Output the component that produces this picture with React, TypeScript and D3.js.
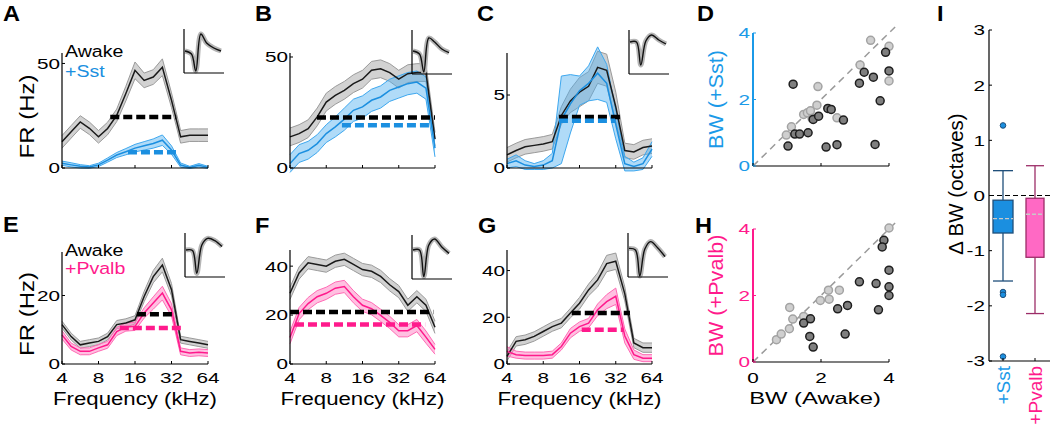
import React from 'react';
import * as d3 from 'd3';

// ---------- DATA ----------
const FREQS = [4, 4.76, 5.66, 6.73, 8, 9.51, 11.31, 13.45, 16, 19.03, 22.63, 26.91, 32, 38.05, 45.25, 53.82, 64];
const FREQ_TICKS = [4, 8, 16, 32, 64];

const A_AWAKE = [12.5, 17.3, 22, 19, 14.9, 18.9, 25.2, 35.6, 46.7, 41.9, 43.5, 48.2, 32.4, 14.9, 15.7, 15.7, 15.7];
const A_AWAKE_SEM = [3, 3, 3, 3, 3, 3, 3, 3.5, 4, 3.5, 3.5, 4, 3.5, 3, 3, 3, 3];
const A_SST = [2.3, 1.5, 0.8, 0.5, 1.5, 3.8, 6.2, 7.8, 9.5, 10.6, 11.7, 13.3, 8.6, 1.4, 0.3, 1.3, 0.3];
const A_SST_SEM = [1, 1, 0.8, 0.6, 0.8, 1, 1.2, 1.5, 1.8, 2, 2.2, 2.5, 2, 1, 0.5, 0.8, 0.5];

const B_AWAKE = [14, 15.5, 17.7, 23, 29.7, 32.7, 35, 38, 40, 44, 44.7, 43, 40, 42.5, 43, 43, 13];
const B_AWAKE_SEM = [4, 4, 4, 4, 4, 4, 4, 4, 4, 4, 4, 4, 4, 4, 4, 4, 3];
const B_SST = [2, 6.5, 8, 11, 15.5, 18.5, 22, 26, 27.5, 30.5, 32, 35, 36.5, 38, 38.7, 36, 9];
const B_SST_SEM = [4, 4, 4, 4, 4, 4.5, 5, 5, 5, 5, 5, 5, 5, 5, 5, 5, 4];

const C_AWAKE = [0.9, 1.2, 1.45, 1.55, 1.65, 1.8, 3.6, 4.6, 5.2, 5.6, 6.9, 6.7, 4.2, 1.2, 1.1, 1.4, 1.5];
const C_AWAKE_SEM = [0.5, 0.5, 0.5, 0.5, 0.5, 0.5, 0.6, 0.8, 1, 1, 1.1, 1.1, 1, 0.5, 0.5, 0.5, 0.5];
const C_SST = [0.3, 0.5, 0.2, 0.1, 0.2, 0.5, 3.3, 4.4, 5.3, 5.8, 6.5, 5.8, 3, 0.3, 0.1, 0.3, 1.3];
const C_SST_SEM = [0.3, 0.4, 0.3, 0.2, 0.3, 0.5, 3, 2, 1, 1.2, 1.8, 1.3, 1, 0.5, 0.3, 0.4, 0.5];

const E_AWAKE = [11.5, 8, 5.6, 6.1, 6.6, 8, 11.5, 12, 12.9, 19.7, 25.5, 28.9, 21.7, 7.1, 6.6, 6.1, 5.6];
const E_AWAKE_SEM = [1, 1, 1, 1, 1, 1, 1.2, 1.2, 1.2, 1.5, 1.8, 2, 1.8, 1, 1, 1, 1];
const E_PVALB = [8.5, 5.1, 3.7, 3.7, 4.7, 5.6, 9.5, 10.8, 11, 14.9, 17.8, 20.7, 15.8, 3.7, 3.2, 3.4, 3.2];
const E_PVALB_SEM = [1.2, 1, 1, 1, 1, 1, 1.2, 1.2, 1.2, 1.5, 1.8, 2, 1.8, 1, 1, 1, 1];

const F_AWAKE = [28.9, 37.2, 41.4, 40.7, 40, 42, 42.8, 40.7, 38.6, 37.9, 35.8, 32.4, 29.6, 24, 27.5, 24, 15];
const F_AWAKE_SEM = [2.5, 2.5, 2.5, 2.5, 2.5, 2.5, 2.5, 2.5, 2.5, 2.5, 2.5, 2.5, 2.5, 2.5, 2.5, 2.5, 2.5];
const F_PVALB = [10.8, 20.6, 24.7, 27.5, 28.9, 31, 31.7, 27.5, 24, 22.6, 19.9, 17, 13.6, 13.6, 15.7, 11, 6];
const F_PVALB_SEM = [2.5, 2.5, 2.5, 2.5, 2.5, 2.5, 2.5, 2.5, 2.5, 2.5, 2.5, 2.5, 2.5, 2.5, 2.5, 2.5, 2];

const G_AWAKE = [3.3, 9.7, 10.4, 11.8, 13.9, 16, 17.5, 21.8, 26, 31.7, 36, 43, 44, 30, 9, 7, 7];
const G_AWAKE_SEM = [2, 2, 2, 2, 2, 2, 2, 2, 2.5, 2.5, 3, 3.5, 3.5, 3, 2, 2, 2];
const G_PVALB = [5.4, 4, 3.6, 3.6, 3.6, 4, 7.5, 13.2, 16, 17.5, 23.2, 26.7, 29, 12, 4, 2.5, 2.5];
const G_PVALB_SEM = [2, 1.5, 1.5, 1.5, 1.5, 1.5, 1.5, 2, 2, 2, 2.5, 3, 3.5, 3, 2, 1.5, 1.5];

// half-max bandwidth lines: [startFreq, endFreq, level]
const A_HALF_AWAKE = [10, 35, 24.4];
const A_HALF_SST = [14, 35, 7.5];
const B_HALF_AWAKE = [6.7, 64, 22.8];
const B_HALF_SST = [10.8, 60, 19.3];
const C_HALF_AWAKE = [10.8, 36, 3.5];
const C_HALF_SST = [10.8, 31.6, 3.24];
const E_HALF_AWAKE = [16.6, 34.2, 14.5];
const E_HALF_PVALB = [12, 39, 10.5];
const F_HALF_AWAKE = [4, 62, 21.3];
const F_HALF_PVALB = [4.4, 53, 16.1];
const G_HALF_AWAKE = [13.8, 42, 21.8];
const G_HALF_PVALB = [16.7, 36.8, 14.7];

// spike waveforms (normalized time, amplitude)
const WAVE_T = [0, 0.18, 0.3, 0.44, 0.6, 0.8, 1];
const WAVE_A = [0, -0.15, -1.0, 0.85, 0.4, 0.15, 0];
const WAVE_B = [0.05, -0.1, -1.0, 0.7, 0.5, 0.15, -0.03];
const WAVE_C = [0.5, 0.5, -0.65, 0.55, 0.85, 0.6, 0.4];
const WAVE_E = [0.25, 0.22, -0.92, 0.5, 0.83, 0.72, 0.42];
const WAVE_F = [0.35, 0.35, -0.98, 0.6, 0.9, 0.5, 0.18];
const WAVE_G = [0.33, 0.25, -1.05, 0.3, 0.67, 0.35, -0.08];

// scatter: bandwidth (octaves) [awake, opto]
const D_NS = [[0.98, 0.93], [1.13, 1.18], [1.49, 1.55], [1.6, 1.6], [1.69, 1.66], [1.88, 1.83], [1.91, 2.39], [1.74, 1.43], [2.47, 1.45], [3.15, 3.04], [3.46, 3.78], [4.0, 3.6], [4.0, 2.56]];
const D_SIG = [[1.18, 2.46], [1.03, 0.6], [1.23, 0.96], [1.37, 0.96], [1.62, 1.0], [1.77, 1.4], [1.93, 1.5], [2.2, 1.73], [2.3, 1.7], [2.66, 1.38], [2.15, 0.57], [2.47, 0.64], [3.13, 2.49], [3.27, 2.82], [3.54, 2.67], [3.9, 3.42], [4.0, 2.86], [3.74, 1.96], [3.59, 0.65]];
const H_NS = [[0.69, 0.67], [0.83, 0.84], [1.07, 1.0], [1.17, 1.29], [1.08, 1.64], [1.49, 1.37], [1.98, 1.85], [2.22, 2.16], [2.24, 1.89], [2.54, 2.16], [4.0, 4.03]];
const H_SIG = [[1.49, 1.17], [1.69, 1.3], [1.67, 0.77], [1.77, 0.45], [2.49, 1.6], [2.78, 1.7], [2.71, 0.84], [3.13, 2.41], [3.62, 2.36], [3.69, 1.57], [3.85, 3.66], [3.8, 3.46], [4.0, 2.76], [4.0, 2.26], [4.0, 2.0]];

// box plot Δ BW: [whiskLo, q1, median, q3, whiskHi]
const BOX_GROUPS = ['+Sst', '+Pvalb'];
const SST_BOX = [-1.55, -0.68, -0.42, -0.085, 0.45];
const PVALB_BOX = [-2.14, -1.12, -0.34, -0.05, 0.54];
const SST_OUTLIERS = [1.27, -1.75, -1.8, -2.92];
const PVALB_OUTLIERS: number[] = [];
const BOX_TICKS = [-3, -2, -1, 0, 1, 2, 3];

// ---------- STYLE ----------
const FONT = 'Liberation Sans, Arial, Helvetica, sans-serif';
const COL = {
  awake: { line: '#1a1a1a', band: '#d2d2d2', edge: '#9a9a9a' },
  sst: { line: '#1b8fe0', band: 'rgba(80,175,240,0.45)', edge: '#3ea8ef' },
  pvalb: { line: '#ff1a8c', band: 'rgba(255,130,195,0.5)', edge: '#ff6ab5' },
};

function T({ x, y, s = 15, sx = 1, rot = 0, anchor = 'start', fill = '#000', weight = 'normal', dy, children }: any) {
  return (
    <text transform={`translate(${x},${y}) rotate(${rot}) scale(${sx},1)`} fontSize={s} textAnchor={anchor}
      fill={fill} fontWeight={weight} fontFamily={FONT} dy={dy}>{children}</text>
  );
}

const PANELS = [
  { letter: 'A', lx: 3, ly: 21, x0: 62, x1: 208, yb: 168, yt: 53, ymax: 55, yticks: [0, 50], awake: A_AWAKE, awakeSem: A_AWAKE_SEM, opto: A_SST, optoSem: A_SST_SEM, c: 'sst', hA: A_HALF_AWAKE, hO: A_HALF_SST, inset: [184, 29], wave: WAVE_A, bottom: false, legend: '+Sst', ylabel: true },
  { letter: 'B', lx: 255, ly: 21, x0: 290, x1: 435, yb: 168, yt: 53, ymax: 51.8, yticks: [0, 50], awake: B_AWAKE, awakeSem: B_AWAKE_SEM, opto: B_SST, optoSem: B_SST_SEM, c: 'sst', hA: B_HALF_AWAKE, hO: B_HALF_SST, inset: [412, 30], wave: WAVE_B, bottom: false },
  { letter: 'C', lx: 477, ly: 21, x0: 507, x1: 652, yb: 168, yt: 53, ymax: 7.88, yticks: [0, 5], awake: C_AWAKE, awakeSem: C_AWAKE_SEM, opto: C_SST, optoSem: C_SST_SEM, c: 'sst', hA: C_HALF_AWAKE, hO: C_HALF_SST, inset: [629, 30], wave: WAVE_C, bottom: false },
  { letter: 'E', lx: 3, ly: 232, x0: 62, x1: 208, yb: 364, yt: 252, ymax: 32.7, yticks: [0, 20], awake: E_AWAKE, awakeSem: E_AWAKE_SEM, opto: E_PVALB, optoSem: E_PVALB_SEM, c: 'pvalb', hA: E_HALF_AWAKE, hO: E_HALF_PVALB, inset: [185, 233], wave: WAVE_E, bottom: true, legend: '+Pvalb', ylabel: true },
  { letter: 'F', lx: 255, ly: 233, x0: 290, x1: 435, yb: 364, yt: 250, ymax: 46.6, yticks: [0, 20, 40], awake: F_AWAKE, awakeSem: F_AWAKE_SEM, opto: F_PVALB, optoSem: F_PVALB_SEM, c: 'pvalb', hA: F_HALF_AWAKE, hO: F_HALF_PVALB, inset: [412, 235], wave: WAVE_F, bottom: true },
  { letter: 'G', lx: 478, ly: 233, x0: 507, x1: 652, yb: 364, yt: 250, ymax: 48.8, yticks: [0, 20, 40], awake: G_AWAKE, awakeSem: G_AWAKE_SEM, opto: G_PVALB, optoSem: G_PVALB_SEM, c: 'pvalb', hA: G_HALF_AWAKE, hO: G_HALF_PVALB, inset: [628, 233], wave: WAVE_G, bottom: true },
];

function TuningPanel({ p }: any) {
  const x = d3.scaleLog().base(2).domain([4, 64]).range([p.x0, p.x1]);
  const y = d3.scaleLinear().domain([0, p.ymax]).range([p.yb, p.yt]);
  const idx = d3.range(FREQS.length);
  const area = (m: number[], e: number[]) => d3.area<number>().x(i => x(FREQS[i])).y0(i => y(m[i] - e[i])).y1(i => y(m[i] + e[i]))(idx) as string;
  const line = (vals: number[]) => d3.line<number>().x(i => x(FREQS[i])).y(i => y(vals[i]))(idx) as string;
  const edge = (m: number[], e: number[], sgn: number) => line(m.map((v, i) => v + sgn * e[i]));
  const oc = (COL as any)[p.c];
  const ac = COL.awake;
  const [ix, iy] = p.inset;
  const wx = d3.scaleLinear().domain([0, 1]).range([ix + 1, ix + 37]);
  const wy = d3.scaleLinear().domain([-1, 1]).range([iy + 42, iy + 2]);
  const wpath = d3.line<number>().x((_, i) => wx(WAVE_T[i])).y(v => wy(v)).curve(d3.curveCatmullRom)(p.wave) as string;
  return (
    <g>
      {/* bands */}
      <path d={area(p.awake, p.awakeSem)} fill={ac.band} />
      <path d={edge(p.awake, p.awakeSem, 1)} fill="none" stroke={ac.edge} strokeWidth={1} />
      <path d={edge(p.awake, p.awakeSem, -1)} fill="none" stroke={ac.edge} strokeWidth={1} />
      <path d={area(p.opto, p.optoSem)} fill={oc.band} />
      <path d={edge(p.opto, p.optoSem, 1)} fill="none" stroke={oc.edge} strokeWidth={1} />
      <path d={edge(p.opto, p.optoSem, -1)} fill="none" stroke={oc.edge} strokeWidth={1} />
      <path d={line(p.awake)} fill="none" stroke={ac.line} strokeWidth={1.5} />
      <path d={line(p.opto)} fill="none" stroke={oc.line} strokeWidth={1.5} />
      {/* half-max lines */}
      <line x1={x(p.hA[0])} x2={x(p.hA[1])} y1={y(p.hA[2])} y2={y(p.hA[2])} stroke="#000" strokeWidth={4.5} strokeDasharray="9,4" />
      <line x1={x(p.hO[0])} x2={x(p.hO[1])} y1={y(p.hO[2])} y2={y(p.hO[2])} stroke={oc.line} strokeWidth={4.5} strokeDasharray="9,4" />
      {/* axes */}
      <line x1={p.x0} x2={p.x0} y1={p.yt} y2={p.yb} stroke="#000" strokeWidth={1.2} />
      <line x1={p.x0} x2={p.x1} y1={p.yb} y2={p.yb} stroke="#000" strokeWidth={1.2} />
      {p.yticks.map((t: number) => (
        <g key={t}>
          <line x1={p.x0} x2={p.x0 + 3} y1={y(t)} y2={y(t)} stroke="#000" />
          <T x={p.x0 - 2} y={y(t)} s={15} sx={1.38} anchor="end" dy="0.36em">{t}</T>
        </g>
      ))}
      {FREQ_TICKS.map(t => (
        <g key={t}>
          <line x1={x(t)} x2={x(t)} y1={p.yb} y2={p.yb - 3} stroke="#000" />
          {p.bottom && <T x={x(t)} y={p.yb + 19} s={15} sx={1.38} anchor="middle">{t}</T>}
        </g>
      ))}
      {p.bottom && <T x={(p.x0 + p.x1) / 2} y={405} s={18.5} sx={1.2} anchor="middle">Frequency (kHz)</T>}
      {p.ylabel && <T x={34} y={(p.yt + p.yb) / 2 + 6} s={20} sx={1.2} rot={-90} anchor="middle">FR (Hz)</T>}
      {p.legend && (
        <g>
          <T x={p.x0 + 3} y={p.yt + 4} s={16.3} sx={1.2}>Awake</T>
          <T x={p.x0 + 3} y={p.yt + (p.c === 'sst' ? 24 : 22)} s={16.3} sx={1.2} fill={oc.line}>{p.legend}</T>
        </g>
      )}
      {/* inset waveform */}
      <path d={wpath} fill="none" stroke="#b5b5b5" strokeWidth={5} strokeLinejoin="round" />
      <path d={wpath} fill="none" stroke="#111" strokeWidth={1.4} />
      <line x1={ix} x2={ix} y1={iy} y2={iy + 44} stroke="#000" strokeWidth={1.2} />
      <line x1={ix} x2={ix + 40} y1={iy + 44} y2={iy + 44} stroke="#000" strokeWidth={1.2} />
      <T x={p.lx} y={p.ly} s={22} sx={1.07} weight="bold">{p.letter}</T>
    </g>
  );
}

function Scatter({ yb, yt, ns, sig, color, label, letter, ly, showX }: any) {
  const x = d3.scaleLinear().domain([0, 4]).range([753, 889]);
  const y = d3.scaleLinear().domain([0, 4]).range([yb, yt]);
  const ticks = [0, 2, 4];
  return (
    <g>
      <line x1={x(0)} y1={y(0)} x2={x(4.18)} y2={y(4.18)} stroke="#9a9a9a" strokeWidth={1.5} strokeDasharray="7,5" />
      {ns.map((d: number[], i: number) => (
        <circle key={'n' + i} cx={x(d[0])} cy={y(d[1])} r={4} fill="#cfcfcf" stroke="#a3a3a3" strokeWidth={1.5} />
      ))}
      {sig.map((d: number[], i: number) => (
        <circle key={'s' + i} cx={x(d[0])} cy={y(d[1])} r={4} fill="#7f7f7f" stroke="#1e1e1e" strokeWidth={1.5} />
      ))}
      <line x1={x(0)} x2={x(4)} y1={yb} y2={yb} stroke="#000" strokeWidth={1.2} />
      <line x1={x(0)} x2={x(0)} y1={yb} y2={yt} stroke={color} strokeWidth={2} />
      {ticks.map(t => (
        <g key={t}>
          <line x1={x(t)} x2={x(t)} y1={yb} y2={yb - 3} stroke="#000" />
          <line x1={x(0)} x2={x(0) + 3} y1={y(t)} y2={y(t)} stroke={color} />
          <T x={x(0) - 3} y={y(t)} s={15} sx={1.38} anchor="end" dy="0.36em" fill={color}>{t}</T>
          {showX && <T x={x(t)} y={yb + 21} s={15} sx={1.38} anchor="middle">{t}</T>}
        </g>
      ))}
      <T x={723} y={(yb + yt) / 2} s={21} sx={1.03} rot={-90} anchor="middle" fill={color}>{label}</T>
      {showX && <T x={815} y={404} s={17} sx={1.4} anchor="middle">BW (Awake)</T>}
      <T x={letter === 'D' ? 697 : 695} y={ly} s={22} sx={1.07} weight="bold">{letter}</T>
    </g>
  );
}

function BoxPanel() {
  const y = d3.scaleLinear().domain([-3, 3]).range([361, 30]);
  const x = d3.scalePoint().domain(BOX_GROUPS).range([1003, 1035]);
  const groups = [
    { g: '+Sst', box: SST_BOX, out: SST_OUTLIERS, fill: '#1b8fe0', stroke: '#1f4f7a', w: 20, txt: '#1b9ae8' },
    { g: '+Pvalb', box: PVALB_BOX, out: PVALB_OUTLIERS, fill: '#ff69c4', stroke: '#9c2d68', w: 18, txt: '#ff1a8c' },
  ];
  return (
    <g>
      <line x1={989} x2={1050} y1={y(0)} y2={y(0)} stroke="#000" strokeWidth={1.2} strokeDasharray="5,3" />
      {groups.map(G => {
        const cx = x(G.g) as number;
        const [wl, q1, med, q3, wh] = G.box;
        return (
          <g key={G.g}>
            <line x1={cx} x2={cx} y1={y(wh)} y2={y(q3)} stroke={G.stroke} strokeWidth={1.3} />
            <line x1={cx} x2={cx} y1={y(q1)} y2={y(wl)} stroke={G.stroke} strokeWidth={1.3} />
            <line x1={cx - G.w / 2} x2={cx + G.w / 2} y1={y(wh)} y2={y(wh)} stroke={G.stroke} strokeWidth={1.3} />
            <line x1={cx - G.w / 2} x2={cx + G.w / 2} y1={y(wl)} y2={y(wl)} stroke={G.stroke} strokeWidth={1.3} />
            <rect x={cx - G.w / 2} y={y(q3)} width={G.w} height={y(q1) - y(q3)} fill={G.fill} stroke={G.stroke} strokeWidth={1.3} />
            <line x1={cx - G.w / 2} x2={cx + G.w / 2} y1={y(med)} y2={y(med)} stroke="#c8c8c8" strokeWidth={1.3} strokeDasharray="4,2" />
            {G.out.map((o, i) => <circle key={i} cx={cx} cy={y(o)} r={2.8} fill={G.fill} stroke={G.stroke} strokeWidth={1} />)}
            <T x={cx + 7} y={366} s={19} rot={-90} anchor="end" fill={G.txt}>{G.g}</T>
          </g>
        );
      })}
      <line x1={989} x2={989} y1={y(3)} y2={y(-3)} stroke="#000" strokeWidth={1.2} />
      <line x1={989} x2={1050} y1={y(-3)} y2={y(-3)} stroke="#000" strokeWidth={1.2} />
      {BOX_GROUPS.map(g => <line key={g} x1={x(g) as number} x2={x(g) as number} y1={y(-3)} y2={y(-3) - 3} stroke="#000" />)}
      {BOX_TICKS.map(t => (
        <g key={t}>
          <line x1={989} x2={992} y1={y(t)} y2={y(t)} stroke="#000" />
          <T x={985} y={y(t)} s={15} sx={1.38} anchor="end" dy="0.36em">{t}</T>
        </g>
      ))}
      <T x={963} y={184} s={20.5} rot={-90} anchor="middle">Δ BW (octaves)</T>
      <T x={937} y={21} s={22} sx={1.07} weight="bold">I</T>
    </g>
  );
}

export default function App() {
  return (
    <svg width={1050} height={436} style={{ position: 'absolute', left: 0, top: 0, background: '#fff' }}>
      <rect width={1050} height={436} fill="#fff" />
      {PANELS.map(p => <TuningPanel key={p.letter} p={p} />)}
      <Scatter yb={166} yt={33} ns={D_NS} sig={D_SIG} color="#1b9ae8" label="BW (+Sst)" letter="D" ly={21} showX={false} />
      <Scatter yb={362} yt={229} ns={H_NS} sig={H_SIG} color="#ff1a8c" label="BW (+Pvalb)" letter="H" ly={233} showX={true} />
      <BoxPanel />
    </svg>
  );
}
